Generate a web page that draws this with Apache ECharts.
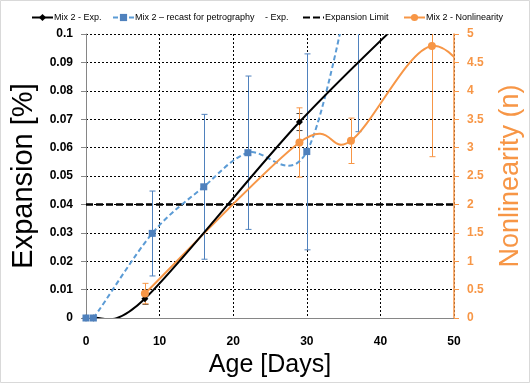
<!DOCTYPE html>
<html>
<head>
<meta charset="utf-8">
<script src="https://cdn.jsdelivr.net/npm/echarts@6/dist/echarts.min.js"></script>
<style>html,body{margin:0;padding:0;background:#fff}#c{width:532px;height:386px}</style>
</head>
<body>
<div id="c"></div>
<script>
// ---- data ----
const expDays = [0, 1, 8, 29, 47];
const expVals = [0, 0, 0.0068, 0.069, 0.115];
const expErr  = [null, null, 0.002, 0.003, null];

const recastDays = [0, 1, 9, 16, 22, 30, 37];
const recastVals = [0, 0, 0.0298, 0.0462, 0.0582, 0.0586, 0.13];
const recastLow  = [null, null, 0.0148, 0.0207, 0.0312, 0.024, 0.0656];
const recastHigh = [null, null, 0.0447, 0.0717, 0.0852, 0.093, 0.194];

const nonlinDays = [8, 29, 36, 47, 56];
const nonlinVals = [0.43, 3.09, 3.12, 4.79, 3.5];
const nonlinErr  = [0.18, 0.61, 0.40, 1.95, null];

const limitValue = 0.04;
const limitDays = [0, 50];

const xTicks = {min: 0, max: 50, interval: 10};
const yLeftTicks = {min: 0, max: 0.1, interval: 0.01};
const yRightTicks = {min: 0, max: 5, interval: 0.5};

const names = ['Mix 2 - Exp.', 'Mix 2 \u2013 recast for petrography', '- Exp.', 'Expansion Limit', 'Mix 2 - Nonlinearity'];

// ---- build ----
const SANS = "'Liberation Sans', Arial, sans-serif";
const ORANGE = '#F79646';
const BLUE_LINE = '#5B9BD5';
const BLUE_MARK = '#4F81BD';

const pair = (xs, ys) => xs.map((x, i) => [x, ys[i]]);
const expData = pair(expDays, expVals);
const recastData = pair(recastDays, recastVals);
const nonlinData = pair(nonlinDays, nonlinVals);
const limitData = limitDays.map(d => [d, limitValue]);

const expErrData = [];
expDays.forEach((d, i) => { if (expErr[i] != null) expErrData.push([d, expVals[i] - expErr[i], expVals[i] + expErr[i]]); });
const recastErrData = [];
recastDays.forEach((d, i) => { if (recastLow[i] != null) recastErrData.push([d, recastLow[i], recastHigh[i]]); });
const nonlinErrData = [];
nonlinDays.forEach((d, i) => { if (nonlinErr[i] != null) nonlinErrData.push([d, nonlinVals[i] - nonlinErr[i], nonlinVals[i] + nonlinErr[i]]); });

function clipRect(cs) { return {type: 'rect', shape: {x: cs.x, y: cs.y, width: cs.width, height: cs.height}}; }

function errRender(color) {
  return function (params, api) {
    const x = api.value(0), lo = api.value(1), hi = api.value(2);
    const p1 = api.coord([x, lo]);
    const p2 = api.coord([x, hi]);
    const cs = params.coordSys;
    const top = cs.y, bot = cs.y + cs.height;
    const y1 = Math.min(p1[1], bot), y2 = Math.max(p2[1], top);
    const px = Math.round(p1[0]) + 0.5;
    const st = {stroke: color, lineWidth: 1};
    const ch = [{type: 'line', shape: {x1: px, y1: y1, x2: px, y2: y2}, style: st}];
    if (p1[1] <= bot) ch.push({type: 'line', shape: {x1: px - 3, y1: p1[1], x2: px + 3, y2: p1[1]}, style: st});
    if (p2[1] >= top) ch.push({type: 'line', shape: {x1: px - 3, y1: p2[1], x2: px + 3, y2: p2[1]}, style: st});
    return {type: 'group', children: ch};
  };
}

// smoothed (Catmull-Rom style, like a spreadsheet "smoothed line") curve through the data, via axis coords
function curveSeries(id, data, yAxisIndex, style, z) {
  return {
    type: 'custom', name: id, data: data, yAxisIndex: yAxisIndex, z: z, silent: true,
    encode: {x: 0, y: 1},
    renderItem: function (params, api) {
      if (params.dataIndex !== 0) return null;
      const p = data.map(d => api.coord(d));
      const n = p.length;
      let path = 'M' + p[0][0] + ' ' + p[0][1];
      for (let i = 0; i < n - 1; i++) {
        const p0 = p[Math.max(i - 1, 0)], p1 = p[i], p2 = p[i + 1], p3 = p[Math.min(i + 2, n - 1)];
        const c1x = p1[0] + (p2[0] - p0[0]) / 6, c1y = p1[1] + (p2[1] - p0[1]) / 6;
        const c2x = p2[0] - (p3[0] - p1[0]) / 6, c2y = p2[1] - (p3[1] - p1[1]) / 6;
        path += ' C' + c1x + ' ' + c1y + ' ' + c2x + ' ' + c2y + ' ' + p2[0] + ' ' + p2[1];
      }
      return {
        type: 'path', shape: {pathData: path},
        style: Object.assign({fill: 'none'}, style),
        clipPath: clipRect(params.coordSys)
      };
    }
  };
}

const legendBase = {top: 8, itemWidth: 21, itemHeight: 9, itemGap: 0,
  textStyle: {fontFamily: SANS, fontSize: 9, color: '#000', padding: [0, 0, 0, -4]}};
const legendLefts = [26, 107, 238, 297, 398];
const legendData = [
  {name: names[0], lineStyle: {opacity: 1}},
  {name: names[1], lineStyle: {opacity: 1}},
  names[2],
  {name: names[3], itemStyle: {opacity: 0}},
  {name: names[4], lineStyle: {opacity: 1}}
];

const chart = echarts.init(document.getElementById('c'), null, {renderer: 'canvas'});
chart.setOption({
  animation: false,
  backgroundColor: '#fff',
  graphic: [{type: 'rect', shape: {x: 0.5, y: 0.5, width: 529, height: 382}, style: {fill: 'none', stroke: '#d9d9d9', lineWidth: 1}, silent: true}],
  legend: legendData.map((n, i) => Object.assign({}, legendBase, {data: [n], left: legendLefts[i]})),
  grid: {left: 86, right: 72, top: 34, bottom: 68},
  xAxis: {
    type: 'value', min: xTicks.min, max: xTicks.max, interval: xTicks.interval,
    name: 'Age [Days]', nameLocation: 'middle', nameGap: 32,
    nameTextStyle: {fontFamily: SANS, fontSize: 25, color: '#000'},
    axisLine: {show: true, lineStyle: {color: '#868686', width: 1}},
    axisTick: {show: false},
    axisLabel: {fontFamily: SANS, fontSize: 12, fontWeight: 'bold', color: '#000', margin: 18},
    splitLine: {show: true, lineStyle: {color: '#000', type: [2, 2], width: 1}}
  },
  yAxis: [{
    type: 'value', min: yLeftTicks.min, max: yLeftTicks.max, interval: yLeftTicks.interval,
    name: 'Expansion [%]', nameLocation: 'middle', nameGap: 41,
    nameTextStyle: {fontFamily: SANS, fontSize: 29, color: '#000'},
    axisLine: {show: true, lineStyle: {color: '#868686', width: 1}},
    axisTick: {show: true, length: 5, lineStyle: {color: '#868686'}},
    axisLabel: {fontFamily: SANS, fontSize: 12, fontWeight: 'bold', color: '#000', margin: 13},
    splitLine: {show: true, lineStyle: {color: '#000', type: [2, 2], width: 1}}
  }, {
    type: 'value', position: 'right', min: yRightTicks.min, max: yRightTicks.max, interval: yRightTicks.interval,
    name: 'Nonlinearity (n)', nameLocation: 'middle', nameGap: 43,
    nameTextStyle: {fontFamily: SANS, fontSize: 27, color: ORANGE},
    axisLine: {show: true, lineStyle: {color: ORANGE, width: 1.5}},
    axisTick: {show: true, length: 5, lineStyle: {color: ORANGE}},
    axisLabel: {fontFamily: SANS, fontSize: 12, fontWeight: 'bold', color: ORANGE, margin: 13},
    splitLine: {show: false}
  }],
  series: [
    {type: 'line', name: names[3], data: limitData, symbol: 'none', z: 2,
     lineStyle: {color: '#000', width: 2.5, type: [7, 3]}, itemStyle: {color: '#000'}},
    {type: 'custom', name: 'errExp', data: expErrData, renderItem: errRender('#404040'), encode: {x: 0, y: [1, 2]}, z: 3, silent: true},
    {type: 'custom', name: 'errRecast', data: recastErrData, renderItem: errRender(BLUE_MARK), encode: {x: 0, y: [1, 2]}, z: 3, silent: true},
    {type: 'custom', name: 'errNon', data: nonlinErrData, yAxisIndex: 1, renderItem: errRender(ORANGE), encode: {x: 0, y: [1, 2]}, z: 3, silent: true},
    curveSeries('curveRecast', recastData, 0, {stroke: BLUE_LINE, lineWidth: 2, lineDash: [5, 3]}, 4),
    curveSeries('curveNon', nonlinData, 1, {stroke: ORANGE, lineWidth: 2}, 4),
    curveSeries('curveExp', expData, 0, {stroke: '#000', lineWidth: 2}, 5),
    {type: 'line', name: names[0], data: expData, symbol: 'diamond', symbolSize: 7, z: 6,
     lineStyle: {color: '#000', width: 2, opacity: 0}, itemStyle: {color: '#000'}},
    {type: 'line', name: names[1], data: recastData, symbol: 'rect', symbolSize: 7, z: 6,
     lineStyle: {color: BLUE_LINE, width: 2, type: [5, 3], opacity: 0}, itemStyle: {color: BLUE_MARK}},
    {type: 'line', name: names[2], data: [], symbol: 'none',
     lineStyle: {width: 0, opacity: 0}, itemStyle: {opacity: 0}},
    {type: 'line', name: names[4], data: nonlinData, yAxisIndex: 1, symbol: 'circle', symbolSize: 8, z: 6,
     lineStyle: {color: ORANGE, width: 2, opacity: 0}, itemStyle: {color: ORANGE}}
  ]
});
</script>
</body>
</html>
